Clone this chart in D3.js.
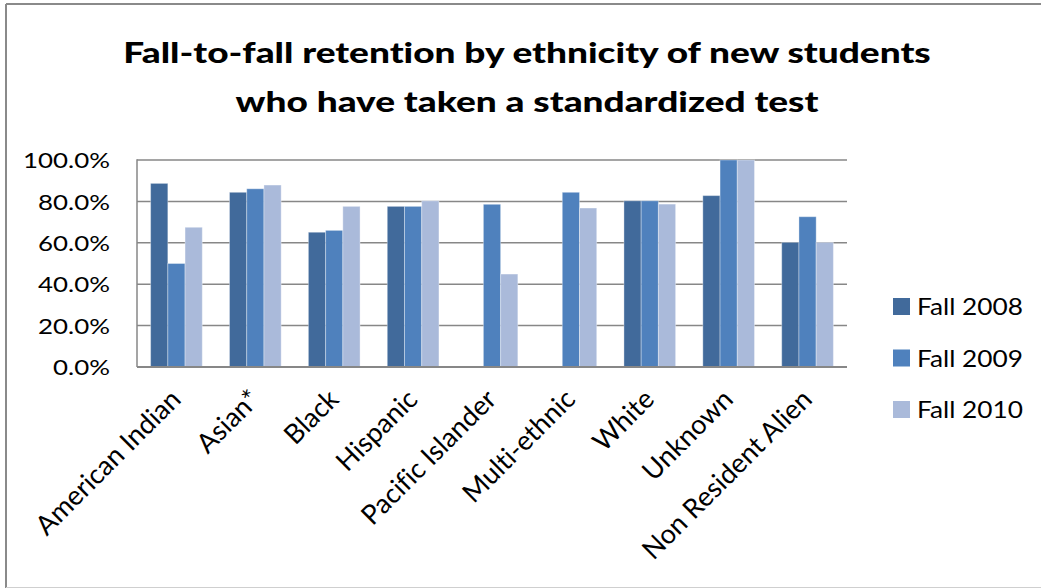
<!DOCTYPE html>
<html>
<head>
<meta charset="utf-8">
<script src="https://cdn.jsdelivr.net/npm/d3@7"></script>
<style>
  html, body { margin: 0; padding: 0; background: #fff; }
  svg { display: block; }
  text { font-family: Lato, "Open Sans", sans-serif; fill: #000; font-variant-ligatures: none; font-feature-settings: "liga" 0, "clig" 0, "dlig" 0; }
</style>
</head>
<body>
<svg id="chart" width="1041" height="588"></svg>
<script>
const categories = ["American Indian", "Asian*", "Black", "Hispanic", "Pacific Islander", "Multi-ethnic", "White", "Unknown", "Non Resident Alien"];
const seriesNames = ["Fall 2008", "Fall 2009", "Fall 2010"];
const fall2008 = [0.887, 0.844, 0.651, 0.776, null, null, 0.803, 0.828, 0.602];
const fall2009 = [0.500, 0.861, 0.660, 0.776, 0.786, 0.844, 0.803, 1.000, 0.726];
const fall2010 = [0.675, 0.879, 0.776, 0.803, 0.449, 0.768, 0.787, 1.000, 0.602];
const yTicks = [0, 0.2, 0.4, 0.6, 0.8, 1.0];
const titleLines = ["Fall-to-fall retention by ethnicity of new students", "who have taken a standardized test"];
const colors = ["#416A9B", "#4F81BD", "#AABADA"];

const seriesValues = [fall2008, fall2009, fall2010];
const svg = d3.select("#chart");

// outer chart border
svg.append("line").attr("x1", 6).attr("y1", 4).attr("x2", 1041).attr("y2", 4).attr("stroke", "#8a8a8a").attr("stroke-width", 2);
svg.append("line").attr("x1", 6).attr("y1", 4).attr("x2", 6).attr("y2", 588).attr("stroke", "#8a8a8a").attr("stroke-width", 2);
svg.append("line").attr("x1", 6).attr("y1", 587.5).attr("x2", 1041).attr("y2", 587.5).attr("stroke", "#cfcfcf").attr("stroke-width", 1);

const plot = { left: 137, right: 847, top: 160, bottom: 367 };

const x0 = d3.scaleBand().domain(categories).range([plot.left, plot.right]).paddingInner(0.345).paddingOuter(0.1725);
const x1 = d3.scaleBand().domain(seriesNames).range([0, x0.bandwidth()]);
const y = d3.scaleLinear().domain([0, 1]).range([plot.bottom, plot.top]);
const color = d3.scaleOrdinal().domain(seriesNames).range(colors);

// gridlines
svg.append("g").selectAll("line").data(yTicks.filter(d => d > 0)).join("line")
  .attr("x1", plot.left).attr("x2", plot.right)
  .attr("y1", d => y(d)).attr("y2", d => y(d))
  .attr("stroke", "#878787").attr("stroke-width", 1.5);

// bars
const rows = categories.map((c, i) => ({ cat: c, vals: seriesNames.map((s, j) => ({ s, v: seriesValues[j][i] })) }));
const groups = svg.append("g").selectAll("g").data(rows).join("g")
  .attr("transform", d => `translate(${x0(d.cat)},0)`);
groups.selectAll("rect").data(d => d.vals.filter(e => e.v != null)).join("rect")
  .attr("x", d => x1(d.s))
  .attr("width", x1.bandwidth())
  .attr("y", d => y(d.v))
  .attr("height", d => y(0) - y(d.v))
  .attr("fill", d => color(d.s))
  .attr("stroke", "rgba(255,255,255,0.35)")
  .attr("stroke-width", 1);

// axes lines
svg.append("line").attr("x1", plot.left).attr("x2", plot.left).attr("y1", plot.top - 0.75).attr("y2", plot.bottom)
  .attr("stroke", "#878787").attr("stroke-width", 1.5);
svg.append("line").attr("x1", plot.left).attr("x2", plot.right).attr("y1", plot.bottom).attr("y2", plot.bottom)
  .attr("stroke", "#878787").attr("stroke-width", 2);

// y tick labels via d3 axis
const yAxis = d3.axisLeft(y).tickValues(yTicks).tickFormat(d3.format(".1%")).tickSize(0).tickPadding(0);
const yg = svg.append("g").attr("transform", `translate(110,0)`).call(yAxis);
yg.select(".domain").remove();
yg.selectAll("text").attr("font-size", 21.5).attr("font-family", 'Lato, sans-serif').attr("fill", "#000").attr("dy", "0.36em").attr("x", 0);
(function(){
  let w = 0;
  yg.selectAll("text").each(function(){ w = Math.max(w, this.getComputedTextLength()); });
  const sx = 87 / w;
  yg.selectAll(".tick text").attr("transform", `scale(${sx},1)`);
})();

// category labels
const xg = svg.append("g");
const catText = xg.selectAll("text").data(categories).join("text")
  .attr("text-anchor", "end")
  .attr("font-size", 20)
  .text(d => d);
(function(){
  const w = catText.filter(d => d === "American Indian").node().getComputedTextLength();
  const fs = 20 * 192 / w;
  catText.attr("font-size", fs)
    .attr("transform", d => `translate(${x0(d) + x0.bandwidth() / 2 + 6},401) rotate(-45)`);
})();

// title
const title = svg.append("g");
const tText = title.selectAll("text").data(titleLines).join("text")
  .attr("text-anchor", "middle")
  .attr("font-weight", 900)
  .attr("font-size", 28)
  .text(d => d);
(function(){
  const w = tText.filter((d, i) => i === 0).node().getComputedTextLength();
  const sx = 808 / w;
  tText.attr("transform", (d, i) => `translate(527,${i === 0 ? 63 : 112}) scale(${sx},1)`);
})();

// legend
const legend = svg.append("g");
const items = legend.selectAll("g").data(seriesNames).join("g")
  .attr("transform", (d, i) => `translate(893,${298 + i * 51.5})`);
items.append("rect").attr("width", 17).attr("height", 17).attr("fill", d => color(d));
const lText = items.append("text").attr("font-size", 23).text(d => d);
(function(){
  const w = lText.filter((d, i) => i === 0).node().getComputedTextLength();
  const sx = 106 / w;
  lText.attr("transform", `translate(24,17) scale(${sx},1)`);
})();
</script>
</body>
</html>
